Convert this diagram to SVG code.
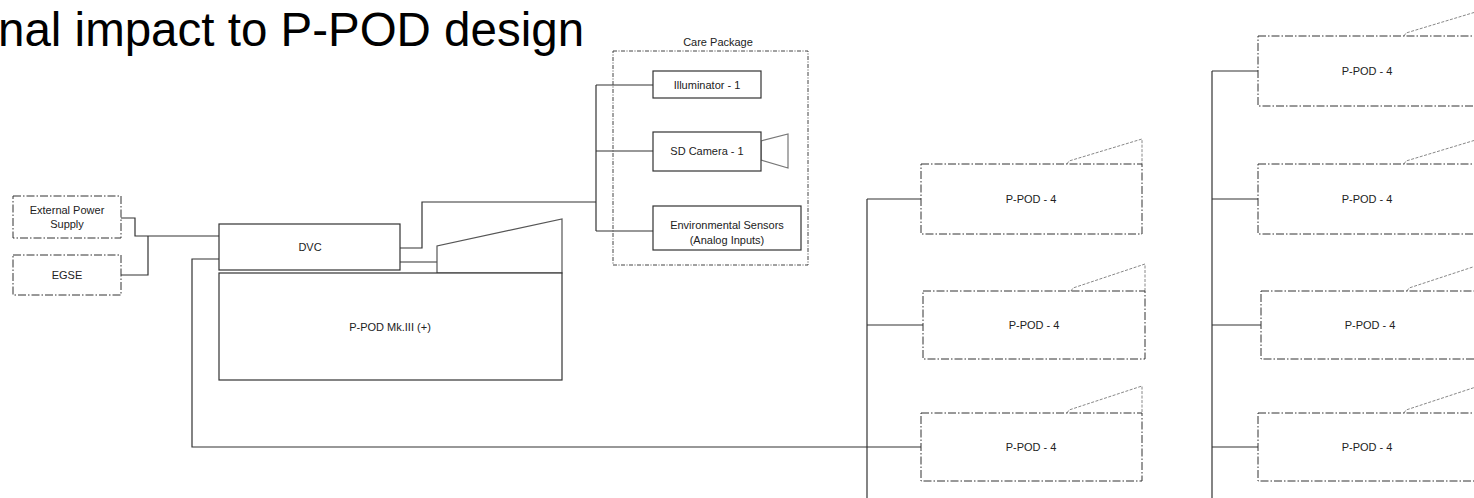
<svg xmlns="http://www.w3.org/2000/svg" width="1474" height="498" viewBox="0 0 1474 498">
<style>
text{font-family:"Liberation Sans",Arial,sans-serif;fill:#222;}
.lbl{font-size:11px;text-anchor:middle;dominant-baseline:central;}
.solid{fill:#fff;stroke:#333;stroke-width:1.2;}
.dd{fill:#fff;stroke:#333;stroke-width:1;stroke-dasharray:8,2,1.5,2;}
.cp{fill:none;stroke:#444;stroke-width:1;stroke-dasharray:4,1.5,1,1.5;}
.trap{fill:none;stroke:#888;stroke-width:1;stroke-dasharray:3,1.5;}
.trapS{fill:#fff;stroke:#555;stroke-width:1.2;}
.lens{fill:#fff;stroke:#777;stroke-width:1.2;}
.wire{fill:none;stroke:#333;stroke-width:1.2;}
</style>
<rect width="1474" height="498" fill="#fff"/>
<text x="-2" y="46" style="font-size:47.5px;fill:#000;">nal impact to P-POD design</text>

<g id="connectors">
<polyline class="wire" points="121,218 135,218 135,236 219,236"/>
<polyline class="wire" points="121,275 148,275 148,236"/>
<polyline class="wire" points="400,248 422,248 422,202 596,202"/>
<polyline class="wire" points="400,262 437,262"/>
<polyline class="wire" points="596,85 596,231"/>
<line class="wire" x1="596" y1="85" x2="653" y2="85"/>
<line class="wire" x1="596" y1="151" x2="653" y2="151"/>
<line class="wire" x1="596" y1="231" x2="653" y2="231"/>
<polyline class="wire" points="219,259 192,259 192,447 921,447"/>
<line class="wire" x1="867" y1="199" x2="867" y2="498"/>
<line class="wire" x1="867" y1="199" x2="921" y2="199"/>
<line class="wire" x1="867" y1="325" x2="923" y2="325"/>
<line class="wire" x1="1212" y1="71" x2="1212" y2="498"/>
<line class="wire" x1="1212" y1="71" x2="1258" y2="71"/>
<line class="wire" x1="1212" y1="199" x2="1258" y2="199"/>
<line class="wire" x1="1212" y1="325" x2="1261" y2="325"/>
<line class="wire" x1="1212" y1="447" x2="1258" y2="447"/>
</g>

<g id="ext-power">
<rect class="dd" x="13" y="196" width="108" height="42"/>
<text class="lbl" x="67" y="210">External Power</text>
<text class="lbl" x="67" y="224">Supply</text>
</g>
<g id="egse">
<rect class="dd" x="13" y="255" width="108" height="40"/>
<text class="lbl" x="67" y="275">EGSE</text>
</g>

<g id="dvc">
<rect class="solid" x="219" y="224" width="181" height="46"/>
<text class="lbl" x="310" y="247">DVC</text>
</g>
<g id="ppod-mk3">
<polygon class="trapS" points="437,273 437,246 562,219 562,273"/>
<rect class="solid" x="219" y="273" width="343" height="107"/>
<text class="lbl" x="390" y="327">P-POD Mk.III (+)</text>
</g>

<g id="care-package">
<rect class="cp" x="613" y="51" width="195" height="214"/>
<text class="lbl" x="718" y="42">Care Package</text>
</g>
<g id="illuminator">
<rect class="solid" x="653" y="71" width="108" height="27"/>
<text class="lbl" x="707" y="85">Illuminator - 1</text>
</g>
<g id="sd-camera">
<polygon class="lens" points="761,141 788,134 788,168 761,160"/>
<rect class="solid" x="653" y="132" width="108" height="39"/>
<text class="lbl" x="707" y="151">SD Camera - 1</text>
</g>
<g id="env-sensors">
<rect class="solid" x="653" y="206" width="148" height="44"/>
<text class="lbl" x="727" y="225">Environmental Sensors</text>
<text class="lbl" x="727" y="240">(Analog Inputs)</text>
</g>

<g id="ppod4-m1">
<polyline class="trap" points="1067,164 1069,161 1142,139 1142,164"/>
<rect class="dd" x="921" y="164" width="221" height="70"/>
<text class="lbl" x="1031" y="199">P-POD - 4</text>
</g>
<g id="ppod4-m2">
<polyline class="trap" points="1071,291 1073,288 1145,264 1145,291"/>
<rect class="dd" x="923" y="291" width="222" height="68"/>
<text class="lbl" x="1034" y="325">P-POD - 4</text>
</g>
<g id="ppod4-m3">
<polyline class="trap" points="1067,413 1069,410 1142,386 1142,413"/>
<rect class="dd" x="921" y="413" width="221" height="68"/>
<text class="lbl" x="1031" y="447">P-POD - 4</text>
</g>

<g id="ppod4-r1">
<polyline class="trap" points="1404,36 1406,33 1479,11 1479,36"/>
<rect class="dd" x="1258" y="36" width="221" height="70"/>
<text class="lbl" x="1367" y="71">P-POD - 4</text>
</g>
<g id="ppod4-r2">
<polyline class="trap" points="1404,164 1406,161 1479,139 1479,164"/>
<rect class="dd" x="1258" y="164" width="221" height="70"/>
<text class="lbl" x="1367" y="199">P-POD - 4</text>
</g>
<g id="ppod4-r3">
<polyline class="trap" points="1407,291 1409,288 1482,264 1482,291"/>
<rect class="dd" x="1261" y="291" width="221" height="68"/>
<text class="lbl" x="1370" y="325">P-POD - 4</text>
</g>
<g id="ppod4-r4">
<polyline class="trap" points="1404,413 1406,410 1479,386 1479,413"/>
<rect class="dd" x="1258" y="413" width="221" height="68"/>
<text class="lbl" x="1367" y="447">P-POD - 4</text>
</g>
</svg>
